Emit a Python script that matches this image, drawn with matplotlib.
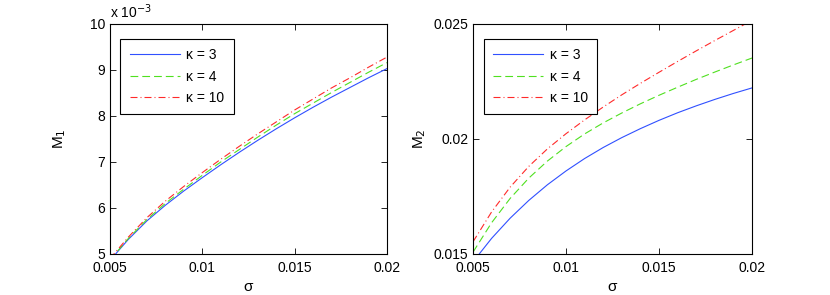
import matplotlib
matplotlib.use("Agg")
import matplotlib.pyplot as plt

plt.rcParams['font.family'] = ['Liberation Sans', 'DejaVu Sans']

# sigma grid shared by all curves
sigma = [0.005, 0.006, 0.007, 0.008, 0.009, 0.010, 0.011, 0.012, 0.013,
         0.014, 0.015, 0.016, 0.017, 0.018, 0.019, 0.020]

# M1 in units of 1e-3
m1_k3 = [4.86, 5.32, 5.72, 6.06, 6.37, 6.66, 6.94, 7.21, 7.47,
         7.72, 7.96, 8.19, 8.41, 8.62, 8.83, 9.03]
m1_k4 = [4.87, 5.34, 5.75, 6.10, 6.41, 6.71, 7.00, 7.27, 7.54,
         7.80, 8.05, 8.28, 8.51, 8.73, 8.95, 9.16]
m1_k10 = [4.90, 5.37, 5.79, 6.15, 6.47, 6.77, 7.06, 7.34, 7.61,
          7.87, 8.13, 8.37, 8.61, 8.83, 9.06, 9.28]

m2_k3 = [0.01466, 0.01568, 0.01656, 0.01733, 0.01801, 0.01861, 0.01915, 0.01963,
         0.02006, 0.02045, 0.02081, 0.02114, 0.02144, 0.02172, 0.02198, 0.02222]
m2_k4 = [0.01508, 0.01636, 0.01742, 0.01830, 0.01904, 0.01967, 0.02022, 0.02070,
         0.02113, 0.02153, 0.02190, 0.02225, 0.02259, 0.02291, 0.02322, 0.02352]
m2_k10 = [0.01553, 0.01683, 0.01791, 0.01881, 0.01957, 0.02023, 0.02083, 0.02139,
          0.02192, 0.02242, 0.02290, 0.02337, 0.02383, 0.02428, 0.02472, 0.02516]

labels = ['κ = 3', 'κ = 4', 'κ = 10']
xticks = [0.005, 0.01, 0.015, 0.02]
xticklabels = ['0.005', '0.01', '0.015', '0.02']

lw = 0.8
styles = [dict(color='#3050ff', linestyle='-'),
          dict(color='#50e020', linestyle=(0, (7, 3.6))),
          dict(color='#ff2a2a', linestyle=(0, (6.3, 2.7, 0.9, 2.7)))]

fig = plt.figure(figsize=(8.3, 2.95), dpi=100)
ax1 = fig.add_axes([0.1325, 0.139, 0.3337, 0.7797])
ax2 = fig.add_axes([0.5699, 0.139, 0.3361, 0.7797])


def style_axes(ax):
    ax.set_xlim(0.005, 0.02)
    ax.set_xticks(xticks)
    ax.set_xticklabels(xticklabels)
    ax.tick_params(direction='in', top=True, right=True, labelsize=10,
                   length=4, width=0.6)
    ax.tick_params(axis='x', pad=5)
    for sp in ax.spines.values():
        sp.set_linewidth(0.8)
    ax.set_xlabel('σ', fontsize=11, labelpad=4)
    leg = ax.legend(loc='upper left', bbox_to_anchor=(0.038, 0.935),
                    borderaxespad=0, fontsize=10,
                    fancybox=False, framealpha=1, edgecolor='black',
                    handlelength=3.6, handletextpad=0.5, borderpad=0.65,
                    labelspacing=0.55)
    leg.get_frame().set_linewidth(0.8)


for ys, lab, st in zip([m1_k3, m1_k4, m1_k10], labels, styles):
    ax1.plot(sigma, ys, lw=lw, label=lab, **st)
ax1.set_ylim(5, 10)
ax1.set_yticks([5, 6, 7, 8, 9, 10])
ax1.set_ylabel('M$_1$', fontsize=11, labelpad=16)
style_axes(ax1)
ax1.text(0.0, 1.015, 'x 10$^{-3}$', transform=ax1.transAxes, fontsize=10,
         ha='left', va='bottom')

for ys, lab, st in zip([m2_k3, m2_k4, m2_k10], labels, styles):
    ax2.plot(sigma, ys, lw=lw, label=lab, **st)
ax2.set_ylim(0.015, 0.025)
ax2.set_yticks([0.015, 0.02, 0.025])
ax2.set_yticklabels(['0.015', '0.02', '0.025'])
ax2.set_ylabel('M$_2$', fontsize=11, labelpad=4)
style_axes(ax2)

fig.savefig('out.png', dpi=100)
